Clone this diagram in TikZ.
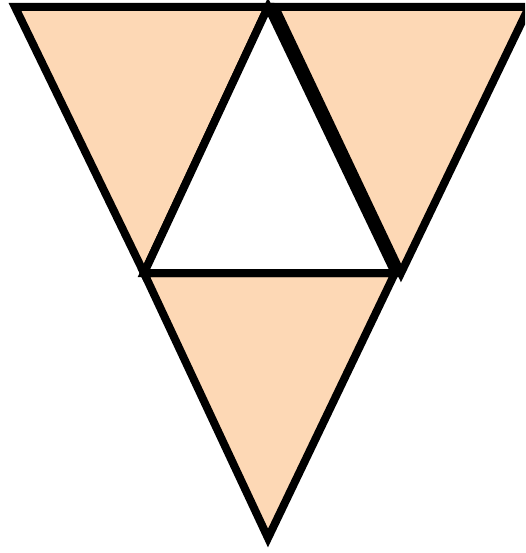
\documentclass[tikz,border=0pt]{standalone}
\definecolor{peach}{RGB}{253,216,181}
\begin{document}
\begin{tikzpicture}[x=1pt,y=-1pt,
  tri/.style={draw=black,line width=8pt,line join=miter,fill=peach},
  hole/.style={draw=black,line width=8pt,line join=miter,fill=white}]
\useasboundingbox (0,0) rectangle (525,553);
\clip (0,0) rectangle (525,553);
\coordinate (L1) at (15,7);
\coordinate (T) at (268,7);
\coordinate (BL) at (144,273);
\coordinate (BR) at (395,273);
\coordinate (B) at (268,538);
\coordinate (R1) at (275,7);
\coordinate (R2) at (529,7);
\coordinate (R3) at (401,273);
\path[tri] (L1) -- (T) -- (BL) -- cycle;
\path[tri] (BL) -- (BR) -- (B) -- cycle;
\path[hole] (T) -- (BR) -- (BL) -- cycle;
\path[tri] (R1) -- (R2) -- (R3) -- cycle;
\end{tikzpicture}
\end{document}
